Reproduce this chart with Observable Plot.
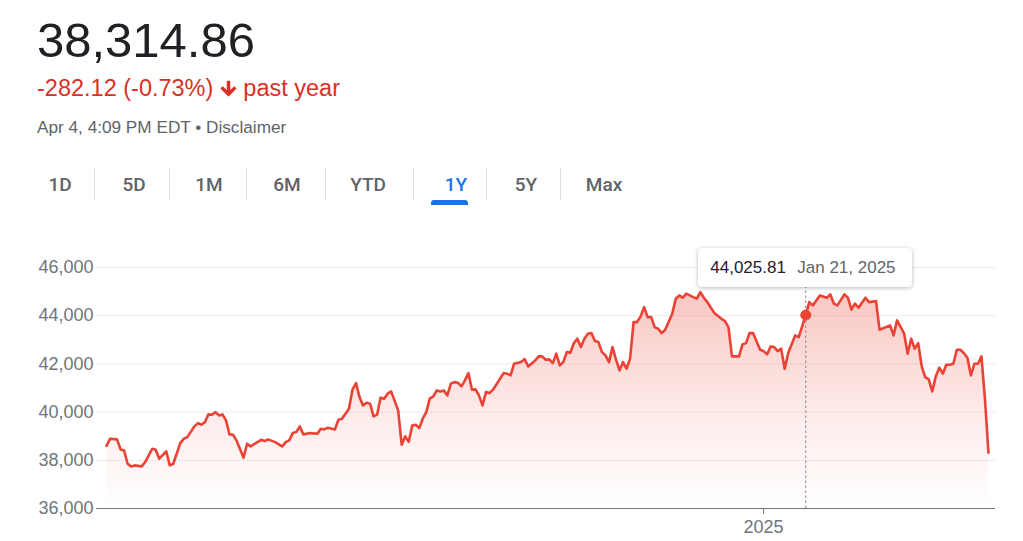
<!DOCTYPE html>
<html>
<head>
<meta charset="utf-8">
<script src="https://cdn.jsdelivr.net/npm/d3@7"></script>
<script src="https://cdn.jsdelivr.net/npm/@observablehq/plot@0.6"></script>
<style>
  html, body { margin: 0; padding: 0; background: #fff; }
  body { width: 1023px; height: 541px; position: relative; overflow: hidden;
         font-family: "Liberation Sans", Arial, Helvetica, sans-serif; }
  .abs { position: absolute; white-space: nowrap; line-height: 1; }
  .tab { position: absolute; top: 175px; font-size: 19px; font-weight: 500; color: #5f6368;
         font-family: Roboto, "Liberation Sans", Arial, sans-serif;
         line-height: 1; transform: translateX(-50%); white-space: nowrap; }
  .sep { position: absolute; top: 168px; width: 1px; height: 32px; background: #dadce0; }
  #tip { position: absolute; top: 248px; height: 39px; width: 214px; background: #fff;
         border-radius: 4px; box-shadow: 0 1px 4px rgba(0,0,0,0.28); box-sizing: border-box;
         font-size: 17px; line-height: 39px; white-space: nowrap; }
</style>
</head>
<body>
<div class="abs" style="left:37px;top:16px;font-size:49px;color:#202124;">38,314.86</div>
<div class="abs" style="left:37px;top:77px;font-size:23.5px;color:#d93025;">
  -282.12 (-0.73%)<svg width="21" height="21" viewBox="0 0 24 24" style="vertical-align:-3px;margin:0 4px 0 5px"><path fill="#d93025" d="M20 12l-1.41-1.41L13 16.17V4h-2v12.17l-5.58-5.59L4 12l8 8 8-8z" stroke="#d93025" stroke-width="2" stroke-linejoin="round"/></svg>past year
</div>
<div class="abs" style="left:37px;top:119px;font-size:17.2px;color:#5f6368;">Apr 4, 4:09 PM EDT • Disclaimer</div>
<div id="tabs"></div>
<div id="chart" style="position:absolute;left:0;top:240px;"></div>
<div id="tip"></div>
<script>
// ---- data ----
const ranges = ["1D", "5D", "1M", "6M", "YTD", "1Y", "5Y", "Max"];
const selectedRange = "1Y";

// trading-day index within the 1-year window (0 = Apr 4, 2024 ... 251 = Apr 4, 2025)
const dayIndex = [
  0,1,3,4,5,6,7,8,10,11,13,14,15,17,18,19,21,22,23,25,26,27,28,29,30,31,32,33,34,35,36,37,39,40,41,
  44,45,46,48,50,51,52,53,54,55,56,58,60,61,62,63,65,66,67,69,70,71,72,73,74,75,76,77,78,79,80,81,83,84,85,86,
  87,88,89,90,91,92,93,94,95,96,97,98,99,100,101,102,103,104,105,106,107,108,109,110,112,113,114,115,116,118,119,120,
  122,123,124,125,126,127,128,129,130,131,132,133,134,135,136,137,138,139,140,141,142,143,144,145,146,147,148,149,
  150,151,152,153,154,155,156,157,158,159,161,162,163,164,165,167,168,169,170,171,172,173,175,176,177,178,180,181,
  182,183,184,186,187,188,189,190,191,192,193,194,196,197,199,200,201,203,205,206,207,208,210,211,212,213,214,216,
  217,219,220,223,224,225,227,228,229,230,231,232,233,234,235,236,237,238,239,240,241,242,243,244,245,246,247,248,
  249,250,251
];
const close = [
  38597,38896,38867,38452,38410,37858,37747,37788,37747,37925,38480,38440,38066,38369,37788,37858,38714,38896,38963,
  39407,39543,39477,39585,39905,39892,40000,39863,39905,39656,39075,39062,38826,38108,38689,38577,
  38850,38797,38867,38755,38577,38755,38826,39129,39170,39407,39075,39129,39104,39311,39282,39353,39282,39685,39726,
  40141,40930,41204,40623,40278,40390,40349,39822,39892,40598,40556,40764,40859,40071,38650,38992,38770,
  39448,39477,39336,39726,40000,40556,40652,40900,40859,40900,40693,41179,41245,41220,41066,41316,41619,40930,40942,
  40693,40278,40830,40788,40930,41386,41619,41594,41523,42008,42075,42200,41896,
  42145,42311,42311,42174,42187,42033,42423,41938,42075,42490,42465,42863,43046,42697,43046,43253,43278,42946,42905,
  42490,42353,42075,42697,42174,41730,42075,41801,42216,
  43735,43735,43971,44357,43942,43942,43527,43460,43278,43419,44083,44706,44842,44747,44913,44772,44706,44979,44747,
  44564,44332,44108,43875,43776,43527,42311,42311,42809,
  42863,43278,43278,42589,42531,42394,42726,42697,42531,42630,41801,42448,43182,43112,44025.81,44564,44427,44842,
  44747,44884,44498,44427,44884,44747,44249,44498,44332,44747,
  44564,44606,43419,43597,43182,43805,43253,42423,43046,42630,42863,41896,41452,41357,40858,41481,41842,41593,41967,
  41967,42008,42589,42589,42448,42257,41523,42008,42008,
  42311,40545,38314.86
];

const yTicks = [36000, 38000, 40000, 42000, 44000, 46000];
const xTicks = [187];
const xTickLabels = ["2025"];

const hover = { i: 199, v: 44025.81, valueLabel: "44,025.81", dateLabel: "Jan 21, 2025" };

// ---- tabs ----
const tabCenters = [60, 134, 209, 287, 368, 456, 526, 604];
const sepXs = [94, 169, 246, 325, 413, 486, 560];
const tabsDiv = document.getElementById("tabs");
ranges.forEach((r, k) => {
  const d = document.createElement("div");
  d.className = "tab";
  d.style.left = tabCenters[k] + "px";
  d.textContent = r;
  if (r === selectedRange) d.style.color = "#1a73e8";
  tabsDiv.appendChild(d);
});
sepXs.forEach(x => {
  const s = document.createElement("div");
  s.className = "sep";
  s.style.left = x + "px";
  tabsDiv.appendChild(s);
});
const ul = document.createElement("div");
ul.style.cssText = "position:absolute;left:431px;top:200px;width:37px;height:5px;background:#1a73e8;border-radius:3px 3px 0 0;";
tabsDiv.appendChild(ul);

// ---- chart ----
const data = dayIndex.map((d, k) => ({ i: d, v: close[k] }));

const chart = Plot.plot({
  width: 1023,
  height: 301,
  marginLeft: 96,
  marginRight: 28,
  marginTop: 27,
  marginBottom: 33,
  x: { domain: [-2.85, 253], axis: null },
  y: { domain: [36000, 46000], axis: null },
  style: { fontFamily: '"Liberation Sans", Arial, sans-serif', background: "transparent", overflow: "visible" },
  marks: [
    Plot.ruleY(yTicks.slice(1), { stroke: "#ececec", strokeWidth: 1 }),
    Plot.areaY(data, { x: "i", y1: 36000, y2: "v", fill: "url(#areaGrad)", curve: "linear" }),
    Plot.ruleY([36000], { stroke: "#70757a", strokeWidth: 1.2 }),
    Plot.ruleX([hover], { x: "i", y1: 36000, y2: 46000, stroke: "#80868b", strokeDasharray: "2.5,2.5", strokeWidth: 1 }),
    Plot.lineY(data, { x: "i", y: "v", stroke: "#ea4335", strokeWidth: 2.6, strokeLinejoin: "round" }),
    Plot.dot([hover], { x: "i", y: "v", r: 5, fill: "#ea4335", stroke: "#ea4335", strokeWidth: 1 }),
    Plot.axisY(yTicks, { label: null, tickSize: 0, tickPadding: 3, fontSize: 18, fill: "#70757a",
      tickFormat: d3.format(",") }),
    Plot.axisX(xTicks, { label: null, tickSize: 6, tickPadding: 6, fontSize: 18, fill: "#70757a", stroke: "#70757a",
      tickFormat: d => xTickLabels[xTicks.indexOf(d)] })
  ]
});

// gradient definition for the area fill
const NS = "http://www.w3.org/2000/svg";
const defs = document.createElementNS(NS, "defs");
const grad = document.createElementNS(NS, "linearGradient");
grad.setAttribute("id", "areaGrad");
grad.setAttribute("x1", "0"); grad.setAttribute("y1", "0");
grad.setAttribute("x2", "0"); grad.setAttribute("y2", "1");
[[0, 0.3], [0.55, 0.11], [1, 0]].forEach(([o, a]) => {
  const st = document.createElementNS(NS, "stop");
  st.setAttribute("offset", o);
  st.setAttribute("stop-color", "#ea4335");
  st.setAttribute("stop-opacity", a);
  grad.appendChild(st);
});
defs.appendChild(grad);
chart.insertBefore(defs, chart.firstChild);

document.getElementById("chart").appendChild(chart);

// tooltip positioned from the chart's own x scale
const tip = document.getElementById("tip");
const hx = chart.scale("x").apply(hover.i);
tip.style.left = (hx - 107) + "px";
tip.innerHTML = '<span style="position:absolute;left:12px;color:#202124">' + hover.valueLabel +
  '</span><span style="position:absolute;left:99px;color:#5f6368">' + hover.dateLabel + '</span>';
</script>
</body>
</html>
